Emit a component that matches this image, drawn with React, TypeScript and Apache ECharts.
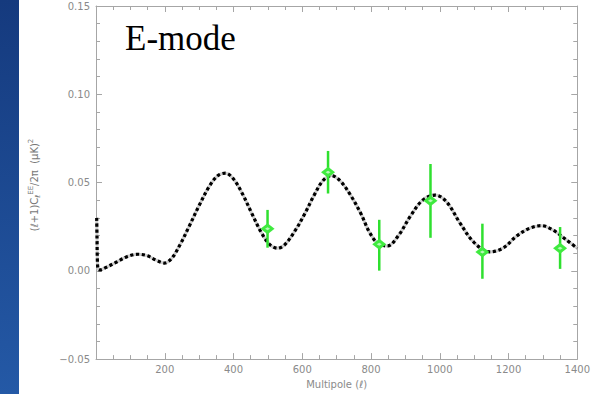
import React, { useEffect, useRef } from "react";
import * as echarts from "echarts";

// Theory EE spectrum (multipole, value)
const ELL = [2, 3, 4, 6, 10, 30, 60, 90, 122, 150, 175, 199, 220, 245, 271, 300, 330, 355, 377, 400, 425, 453, 480, 505, 528, 550, 580, 608, 635, 660, 684, 710, 740, 770, 795, 820, 848, 880, 914, 950, 987, 1020, 1059, 1100, 1146, 1185, 1223, 1260, 1295, 1330, 1365, 1400];
const CL = [0.030, 0.018, 0.006, 0.001, 0.0005, 0.002, 0.005, 0.008, 0.0094, 0.0085, 0.006, 0.0044, 0.007, 0.015, 0.0252, 0.037, 0.048, 0.054, 0.0553, 0.052, 0.044, 0.0326, 0.022, 0.015, 0.0128, 0.015, 0.023, 0.0326, 0.043, 0.051, 0.054, 0.051, 0.043, 0.0326, 0.022, 0.0155, 0.0141, 0.02, 0.0308, 0.04, 0.0429, 0.039, 0.027, 0.016, 0.0107, 0.013, 0.0196, 0.024, 0.0256, 0.023, 0.018, 0.0128];

// Measured band powers
const DATA_L = [499, 675, 824, 973, 1124, 1350];
const DATA_V = [0.0239, 0.0558, 0.015, 0.0397, 0.0107, 0.0128];
const ERR_LO = [0.0131, 0.0438, 0.0001, 0.0187, -0.0045, 0.0011];
const ERR_HI = [0.0345, 0.0679, 0.0289, 0.0605, 0.0267, 0.0248];

const X_TICKS_MIN = 0;
const X_TICKS_MAX = 1400;
const X_INTERVAL = 200;
const Y_MIN = -0.05;
const Y_MAX = 0.15;
const Y_INTERVAL = 0.05;

const AXIS_COLOR = "#a6a6a6";
const LABEL_COLOR = "#8a8a8a";
const FONT = "DejaVu Sans";

export default function App() {
  const ref = useRef<HTMLDivElement>(null);
  useEffect(() => {
    if (!ref.current) return;
    const chart = echarts.init(ref.current, null, { renderer: "svg" });
    const curve = ELL.map((l, i) => [l, CL[i]]);
    const pts = DATA_L.map((l, i) => [l, DATA_V[i]]);
    const errs = DATA_L.map((l, i) => [l, ERR_LO[i], ERR_HI[i]]);

    const baseX = {
      type: "value",
      min: X_TICKS_MIN,
      max: X_TICKS_MAX,
      interval: X_INTERVAL,
      axisLine: { show: true, onZero: false, lineStyle: { color: AXIS_COLOR, width: 1 } },
      axisTick: { show: true, inside: true, length: 6, lineStyle: { color: AXIS_COLOR } },
      minorTick: { show: true, splitNumber: 4, length: 4, lineStyle: { color: AXIS_COLOR } },
      splitLine: { show: false },
      minorSplitLine: { show: false },
    };
    const baseY = {
      type: "value",
      min: Y_MIN,
      max: Y_MAX,
      interval: Y_INTERVAL,
      axisLine: { show: true, onZero: false, lineStyle: { color: AXIS_COLOR, width: 1 } },
      axisTick: { show: true, inside: true, length: 6, lineStyle: { color: AXIS_COLOR } },
      minorTick: { show: true, splitNumber: 5, length: 4, lineStyle: { color: AXIS_COLOR } },
      splitLine: { show: false },
      minorSplitLine: { show: false },
    };

    chart.setOption({
      animation: false,
      backgroundColor: "#ffffff",
      grid: { left: 96, right: 11.5, top: 6, bottom: 29, containLabel: false },
      xAxis: [
        {
          ...baseX,
          position: "bottom",
          axisLabel: {
            color: LABEL_COLOR,
            fontSize: 10,
            fontFamily: FONT,
            margin: 5,
            formatter: (v: number) => (v === 0 ? "" : String(v)),
          },
          name: "Multipole (ℓ)",
          nameLocation: "middle",
          nameGap: 18,
          nameTextStyle: { color: LABEL_COLOR, fontSize: 10, fontFamily: FONT },
        },
        { ...baseX, position: "top", axisLabel: { show: false } },
      ],
      yAxis: [
        {
          ...baseY,
          position: "left",
          axisLabel: {
            color: LABEL_COLOR,
            fontSize: 10,
            fontFamily: FONT,
            margin: 6,
            formatter: (v: number) => {
              if (Math.abs(v) < 1e-9) return "0.00";
              return v < 0 ? "−" + Math.abs(v).toFixed(2) : v.toFixed(2);
            },
          },
        },
        { ...baseY, position: "right", axisLabel: { show: false } },
      ],
      graphic: [
        {
          type: "rect",
          z: -10,
          shape: { x: 0, y: 0, width: 19, height: 394 },
          style: {
            fill: new echarts.graphic.LinearGradient(0, 0, 0, 1, [
              { offset: 0, color: "#153a7e" },
              { offset: 1, color: "#2459a6" },
            ]),
          },
        },
        {
          type: "text",
          x: 125,
          y: 38,
          style: {
            text: "E-mode",
            font: '35px "Liberation Serif"',
            fill: "#000",
            align: "left",
            verticalAlign: "middle",
          },
        },
        {
          type: "text",
          x: 34,
          y: 185,
          rotation: Math.PI / 2,
          style: {
            text: "(ℓ+1)C{sub|ℓ}{sup|EE}/2π  (μK){sup|2}",
            fill: "#777",
            font: `10px "${FONT}"`,
            align: "center",
            verticalAlign: "middle",
            rich: {
              sub: { fontSize: 7, fontFamily: FONT, fill: "#777", verticalAlign: "bottom", lineHeight: 14 },
              sup: { fontSize: 7, fontFamily: FONT, fill: "#777", verticalAlign: "top", lineHeight: 14 },
            },
          },
        },
      ],
      series: [
        {
          type: "line",
          data: curve,
          smooth: 0.35,
          showSymbol: false,
          lineStyle: { color: "#cfcfcf", width: 3 },
          z: 2,
        },
        {
          type: "line",
          data: curve,
          smooth: 0.35,
          showSymbol: false,
          lineStyle: { color: "#000", width: 3.2, type: [3.2, 2.6] },
          z: 3,
        },
        {
          type: "custom",
          data: errs,
          encode: { x: 0, y: [1, 2] },
          renderItem: (_params: any, api: any) => {
            const x = api.value(0);
            const p1 = api.coord([x, api.value(1)]);
            const p2 = api.coord([x, api.value(2)]);
            return {
              type: "line",
              shape: { x1: p1[0], y1: p1[1], x2: p2[0], y2: p2[1] },
              style: { stroke: "#2fe02f", lineWidth: 2.5 },
            };
          },
          z: 4,
        },
        {
          type: "scatter",
          data: pts,
          symbol: "diamond",
          symbolSize: [14, 11],
          itemStyle: { color: "#3fea3f", opacity: 1 },
          z: 5,
        },
        {
          type: "scatter",
          data: pts,
          symbol: "diamond",
          symbolSize: [5, 3],
          itemStyle: { color: "#b8f7b8", opacity: 1 },
          z: 6,
        },
      ],
    });
    return () => chart.dispose();
  }, []);
  return (
    <div
      ref={ref}
      style={{ position: "absolute", left: 0, top: 0, width: 593, height: 394 }}
    />
  );
}
